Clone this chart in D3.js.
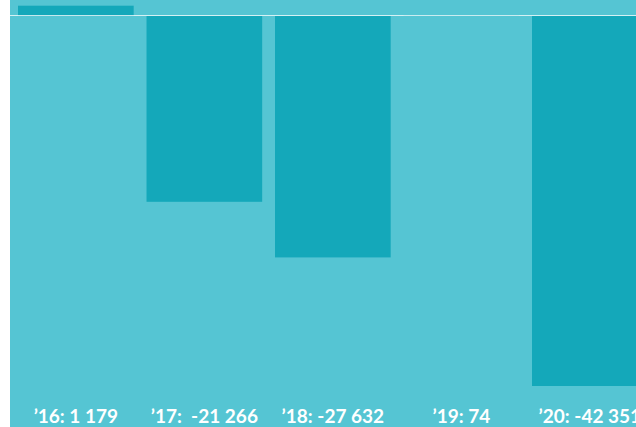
<!DOCTYPE html>
<html>
<head>
<meta charset="utf-8">
<script src="https://cdn.jsdelivr.net/npm/d3@7"></script>
<style>
    body { margin: 0; background: #fff; }
    .bar-label { font-family: Lato, "Open Sans", sans-serif; font-weight: bold; font-size: 19px; fill: #fff; white-space: pre; }
</style>
</head>
<body>
<svg id="chart"></svg>
<script>
// data
var years = ["’16", "’17", "’18", "’19", "’20"];
var values = [1179, -21266, -27632, 74, -42351];
var labels = ["’16: 1 179", "’17:  -21 266", "’18: -27 632", "’19: 74", "’20: -42 351"];

var wtot = 636,
    htot = 427;

var svg = d3.select("#chart")
    .attr("width", wtot)
    .attr("height", htot);

// panel background
svg.append("rect")
    .attr("x", 10)
    .attr("y", 0)
    .attr("width", wtot - 10)
    .attr("height", htot)
    .attr("fill", "#55c5d3");

var x = d3.scaleBand()
    .domain(years)
    .range([11.6, 654.1])
    .paddingInner(0.1)
    .paddingOuter(0.05);

var y = d3.scaleLinear()
    .domain([-42351, 0])
    .range([386, 16]);

var data = years.map((d, i) => ({ year: d, value: values[i], label: labels[i] }));

svg.selectAll("rect.bar")
    .data(data)
    .join("rect")
    .attr("class", "bar")
    .attr("x", d => x(d.year))
    .attr("width", x.bandwidth())
    .attr("y", d => Math.min(y(d.value), y(0)))
    .attr("height", d => Math.abs(y(d.value) - y(0)))
    .attr("fill", "#14a8ba");

// zero line
svg.append("line")
    .attr("x1", 10)
    .attr("x2", wtot)
    .attr("y1", y(0) - 0.5)
    .attr("y2", y(0) - 0.5)
    .attr("stroke", "#fff")
    .attr("stroke-opacity", 0.75)
    .attr("stroke-width", 1);

svg.selectAll("text.bar-label")
    .data(data)
    .join("text")
    .attr("class", "bar-label")
    .attr("x", d => x(d.year) + x.bandwidth() / 2)
    .attr("y", 423)
    .attr("text-anchor", "middle")
    .text(d => d.label);
</script>
</body>
</html>
